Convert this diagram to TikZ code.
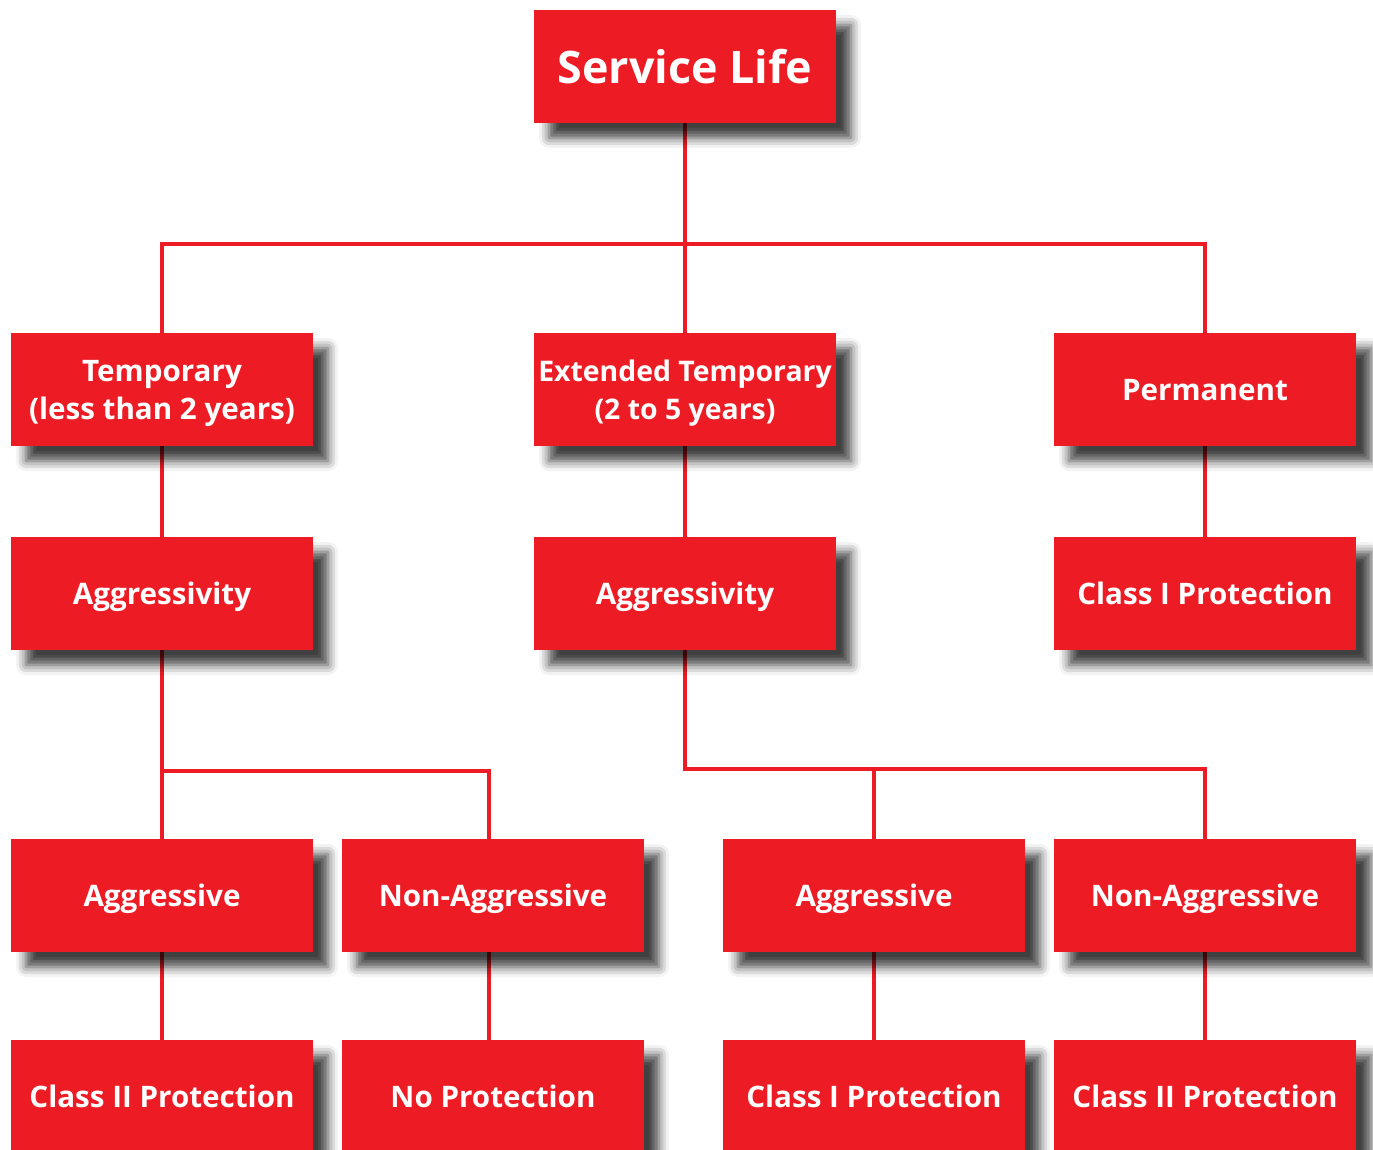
\documentclass[tikz,border=0pt]{standalone}
\usepackage{fontspec}
\setmainfont{Open Sans}
\usepackage{tikz}
\usetikzlibrary{shadows.blur,backgrounds}
\definecolor{boxred}{HTML}{ED1C24}
\tikzstyle{box}=[rectangle,fill=boxred,text=white,font=\bfseries\fontsize{14.8}{19}\selectfont,
  minimum width=151pt,minimum height=56.5pt,inner sep=0pt,align=center,text depth=0pt,
  blur shadow={shadow xshift=7.5pt,shadow yshift=-7.5pt,shadow blur radius=5pt,shadow opacity=75}]
\tikzstyle{line} = [draw, boxred, line width=2pt]

\begin{document}
\begin{tikzpicture}[x=0.5pt,y=-0.5pt]
    \useasboundingbox (0,0) rectangle (1373,1150);

        \node[box,font=\bfseries\fontsize{22.4}{28}\selectfont] (life) at (685, 66.5) {Service Life};

        \node[box] (temp) at (162, 389.5) {Temporary\\(less than 2 years)};
        \node[box,font=\bfseries\fontsize{14.2}{19}\selectfont] (ext) at (685, 389.5) {Extended Temporary\\(2 to 5 years)};
        \node[box] (perm) at (1205, 389.5) {Permanent};

        \node[box] (aggrT) at (162, 593.5) {Aggressivity};
        \node[box] (aggrE) at (685, 593.5) {Aggressivity};
        \node[box] (clsP)  at (1205, 593.5) {Class I Protection};

        \node[box] (aggT) at (162, 895.5) {Aggressive};
        \node[box] (nonT) at (493, 895.5) {Non-Aggressive};
        \node[box] (aggE) at (874, 895.5) {Aggressive};
        \node[box] (nonE) at (1205, 895.5) {Non-Aggressive};

        \node[box] (clsT) at (162, 1096.5) {Class II Protection};
        \node[box] (noP)  at (493, 1096.5) {No Protection};
        \node[box] (clsA) at (874, 1096.5) {Class I Protection};
        \node[box] (clsN) at (1205, 1096.5) {Class II Protection};

    % branch points
    \coordinate (lifesplit) at (685, 244);
    \coordinate (tempsplit) at (162, 771);
    \coordinate (extsplit)  at (685, 769);

  \begin{scope}[on background layer]
  \path [line] (life.south) -- (lifesplit);
  \path [line] (temp.north) |- (lifesplit) -| (perm.north);
  \path [line] (lifesplit) -- (ext.north);

  \path [line] (temp) -- (aggrT);
  \path [line] (ext) -- (aggrE);
  \path [line] (perm) -- (clsP);

  \path [line] (aggrT.south) -- (aggT.north);
  \path [line] (tempsplit) -| ([xshift=-2pt]nonT.north);
  \path [line] (aggrE.south) -- (extsplit) -| (aggE.north);
  \path [line] (extsplit) -| (nonE.north);

  \path [line] (aggT) -- (clsT);
  \path [line] ([xshift=-2pt]nonT.south) -- ([xshift=-2pt]noP.north);
  \path [line] (aggE) -- (clsA);
  \path [line] (nonE) -- (clsN);
  \end{scope}

\end{tikzpicture}
\end{document}
